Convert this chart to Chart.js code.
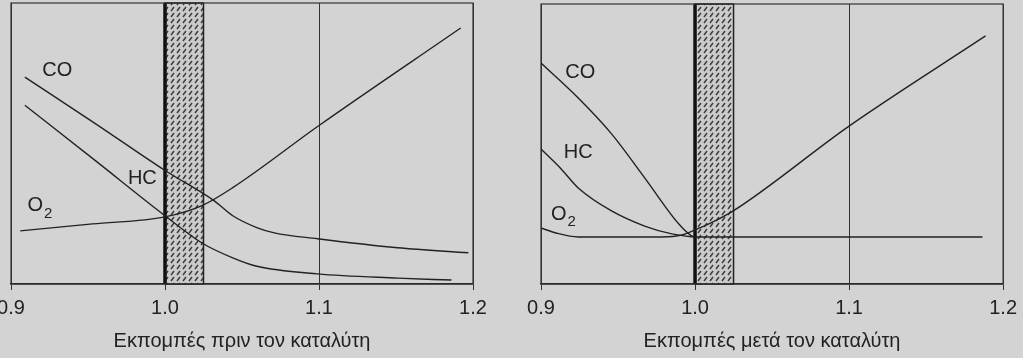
<!DOCTYPE html>
<html>
<head>
<meta charset="utf-8">
<script src="https://cdn.jsdelivr.net/npm/chart.js@4/dist/chart.umd.min.js"></script>
<style>
html, body { margin: 0; padding: 0; background: #d3d3d3; }
#wrap { position: relative; width: 1023px; height: 358px; overflow: hidden; }
.box { position: absolute; top: 0; height: 358px; }
</style>
</head>
<body>
<div id="wrap">
  <div class="box" style="left:-10px;width:521px"><canvas id="beforeChart"></canvas></div>
  <div class="box" style="left:511px;width:512px"><canvas id="afterChart"></canvas></div>
</div>
<script>
// λ
const xTicks = [0.9, 1.0, 1.1, 1.2];
const band = [1.0, 1.025];

// Εκπομπές πριν τον καταλύτη
const beforeCOx = [0.909, 0.955, 1.0, 1.032, 1.044, 1.060, 1.071, 1.099, 1.151, 1.197];
const beforeCOy = [73.6, 57.0, 40.4, 29.6, 24.3, 20.0, 18.2, 16.1, 12.9, 11.1];
const beforeHCx = [0.909, 0.955, 1.0, 1.024, 1.044, 1.059, 1.099, 1.151, 1.186];
const beforeHCy = [63.6, 43.8, 24.3, 14.6, 9.3, 6.4, 3.6, 2.1, 1.4];
const beforeO2x = [0.906, 0.953, 1.0, 1.024, 1.044, 1.1, 1.192];
const beforeO2y = [18.9, 21.4, 23.9, 27.9, 34.3, 56.4, 91.1];

// Εκπομπές μετά τον καταλύτη
const afterCOx = [0.9, 0.9242, 0.9458, 0.9673, 0.9895, 0.998, 1.0];
const afterCOy = [78.9, 66.4, 53.6, 37.9, 21.4, 17.1, 16.8];
const afterHCx = [0.9, 0.9131, 0.9242, 0.9458, 0.9673, 0.985, 1.0012, 1.1866];
const afterHCy = [48.2, 41.1, 34.3, 26.1, 20.7, 17.9, 16.8, 16.8];
const afterO2x = [0.9, 0.9098, 0.9242, 0.9588, 0.9784, 0.9915, 1.0, 1.0103, 1.0248, 1.1, 1.1886];
const afterO2y = [20.0, 18.2, 16.8, 16.8, 16.8, 17.5, 19.3, 21.8, 26.1, 56.4, 88.6];

const FONT = '"Liberation Sans", Arial, sans-serif';
const INK = '#222';

function points(xs, ys) {
    return xs.map((x, i) => ({ x: x, y: ys[i] }));
}

function hatchPattern(ctx) {
    const c = document.createElement('canvas');
    c.width = 6; c.height = 6;
    const p = c.getContext('2d');
    p.fillStyle = '#cbcbcb';
    p.fillRect(0, 0, 6, 6);
    p.strokeStyle = '#3a3a3a';
    p.lineWidth = 1.4;
    p.beginPath();
    p.moveTo(1, 5);
    p.lineTo(4, 1);
    p.stroke();
    return ctx.createPattern(c, 'repeat');
}

// hatched band + frame
const bandPlugin = {
    id: 'band',
    beforeDatasetsDraw(chart) {
        const { ctx, chartArea: a, scales: { x } } = chart;
        const x0 = x.getPixelForValue(band[0]);
        const x1 = x.getPixelForValue(band[1]);
        ctx.save();
        ctx.fillStyle = hatchPattern(ctx);
        ctx.fillRect(x0, a.top, x1 - x0, a.bottom - a.top);
        ctx.strokeStyle = '#222';
        ctx.lineWidth = 1.5;
        ctx.strokeRect(x0, a.top, x1 - x0, a.bottom - a.top);
        ctx.strokeStyle = '#111';
        ctx.lineWidth = 3.5;
        ctx.beginPath();
        ctx.moveTo(x0, a.top);
        ctx.lineTo(x0, a.bottom);
        ctx.stroke();
        // frame
        ctx.strokeStyle = '#333';
        ctx.lineWidth = 1.2;
        ctx.strokeRect(a.left, a.top, a.right - a.left, a.bottom - a.top);
        ctx.restore();
    }
};

// curve labels
const labelPlugin = {
    id: 'curveLabels',
    afterDatasetsDraw(chart, args, opts) {
        const { ctx, scales: { x, y } } = chart;
        ctx.save();
        ctx.fillStyle = INK;
        ctx.textBaseline = 'middle';
        opts.items.forEach(it => {
            const px = x.getPixelForValue(it.at[0]);
            const py = y.getPixelForValue(it.at[1]);
            ctx.font = '20px ' + FONT;
            if (it.sub) {
                ctx.textAlign = 'left';
                ctx.fillText(it.text, px, py);
                const w = ctx.measureText(it.text).width;
                ctx.font = '15px ' + FONT;
                ctx.fillText(it.sub, px + w + 1, py + 8);
            } else {
                ctx.textAlign = 'center';
                ctx.fillText(it.text, px, py);
            }
        });
        ctx.restore();
    }
};

function line(data) {
    return {
        data: data,
        borderColor: INK,
        borderWidth: 1.4,
        pointRadius: 0,
        fill: false,
        cubicInterpolationMode: 'monotone'
    };
}

function createPanel(canvasId, series, title, labels, pad) {
    const ctx = document.getElementById(canvasId).getContext('2d');
    return new Chart(ctx, {
        type: 'line',
        data: {
            datasets: series.map(s => line(s))
        },
        options: {
            responsive: true,
            maintainAspectRatio: false,
            animation: false,
            parsing: false,
            layout: { padding: pad },
            plugins: {
                legend: { display: false },
                tooltip: { enabled: false },
                curveLabels: { items: labels }
            },
            scales: {
                x: {
                    type: 'linear',
                    min: 0.9,
                    max: 1.2,
                    afterBuildTicks: s => { s.ticks = xTicks.map(v => ({ value: v })); },
                    grid: { color: '#333', lineWidth: 1, tickLength: 6 },
                    border: { color: '#222', width: 1.6 },
                    ticks: {
                        color: INK,
                        padding: 6,
                        maxRotation: 0,
                        font: { family: FONT, size: 20 },
                        callback: v => v.toFixed(1)
                    },
                    title: {
                        display: true,
                        text: title,
                        color: INK,
                        padding: { top: 3, bottom: 0 },
                        font: { family: FONT, size: 20 }
                    }
                },
                y: { display: false, min: 0, max: 100 }
            }
        },
        plugins: [bandPlugin, labelPlugin]
    });
}

createPanel('beforeChart',
    [points(beforeCOx, beforeCOy), points(beforeHCx, beforeHCy), points(beforeO2x, beforeO2y)],
    'Εκπομπές πριν τον καταλύτη',
    [
        { text: 'CO', at: [0.930, 76.1] },
        { text: 'HC', at: [0.9853, 37.5] },
        { text: 'O', sub: '2', at: [0.9107, 27.9] }
    ],
    { left: 21, right: 38, top: 3, bottom: 5 });

createPanel('afterChart',
    [points(afterCOx, afterCOy), points(afterHCx, afterHCy), points(afterO2x, afterO2y)],
    'Εκπομπές μετά τον καταλύτη',
    [
        { text: 'CO', at: [0.9255, 75.7] },
        { text: 'HC', at: [0.9242, 46.8] },
        { text: 'O', sub: '2', at: [0.9065, 25.0] }
    ],
    { left: 30, right: 15, top: 4, bottom: 5 });
</script>
</body>
</html>
